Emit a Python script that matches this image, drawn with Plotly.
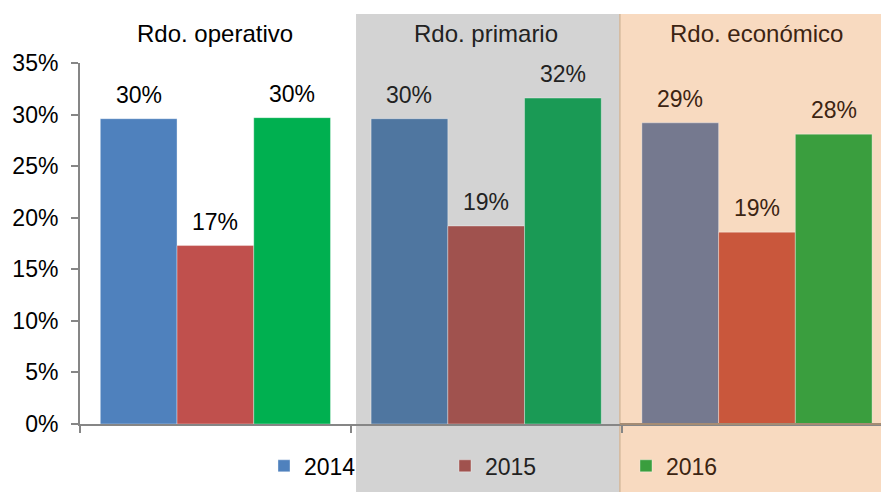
import plotly.graph_objects as go

# ---- data ----
categories = ["Rdo. operativo", "Rdo. primario", "Rdo. económico"]
years = ["2014", "2015", "2016"]
values_2014 = [0.296, 0.296, 0.292]
values_2015 = [0.173, 0.192, 0.186]
values_2016 = [0.297, 0.316, 0.281]
series = [values_2014, values_2015, values_2016]
tick_vals = [0, 0.05, 0.10, 0.15, 0.20, 0.25, 0.30, 0.35]

# ---- styles ----
# colours per region (white / grey / peach) for each year
bar_colors = [
    ["#4F81BD", "#C0504D", "#00B050"],   # white region
    ["#4F76A0", "#A0524E", "#1A9A55"],   # grey region
    ["#75798F", "#C9573C", "#3A9E3E"],   # peach region
]
text_colors = ["#000000", "#222222", "#3C2412"]
FONT = "Liberation Sans, Arial, sans-serif"
FS = 23
BARGAP = 0.15

fig = go.Figure()
for j, yr in enumerate(years):
    for i, cat in enumerate(categories):
        name = f"<span style='color:{text_colors[j]}'>{yr}</span>"
        fig.add_trace(go.Bar(
            x=[cat], y=[series[j][i]],
            name=name, legendgroup=yr, offsetgroup=yr,
            showlegend=(i == j),
            marker=dict(color=bar_colors[i][j],
                        line=dict(width=1, color="rgba(255,255,255,0.35)")),
            hoverinfo="skip",
        ))

# data labels
slot = (1 - BARGAP) / len(years)
annotations = []
for j, yr in enumerate(years):
    for i, cat in enumerate(categories):
        v = series[j][i]
        annotations.append(dict(
            x=i + (j - 1) * slot, y=v, xref="x", yref="y",
            text=f"{round(v * 100)}%", showarrow=False,
            yanchor="middle", yshift=24,
            font=dict(family=FONT, size=FS, color=text_colors[i]),
        ))
# category labels on top
for i, cat in enumerate(categories):
    annotations.append(dict(
        x=i, y=1.083, xref="x", yref="paper", text=cat, showarrow=False,
        yanchor="middle",
        font=dict(family=FONT, size=24, color=text_colors[i]),
    ))

shapes = [
    dict(type="rect", xref="paper", yref="paper", x0=0.3446, x1=0.674,
         y0=-0.19, y1=1.1357, fillcolor="#D3D3D3", line=dict(width=0), layer="below"),
    dict(type="rect", xref="paper", yref="paper", x0=0.674, x1=1.01,
         y0=-0.19, y1=1.1357, fillcolor="#F8DAC0", line=dict(width=0), layer="below"),
    dict(type="line", xref="paper", yref="paper", x0=0.674, x1=0.674,
         y0=-0.19, y1=1.1357, line=dict(width=1.5, color="#D4B89C"), layer="below"),
    dict(type="line", xref="paper", yref="paper", x0=0.674, x1=1.0,
         y0=0, y1=0, line=dict(width=2, color="#A58C74"), layer="above"),
]

fig.update_layout(
    width=881, height=492,
    margin=dict(l=80, r=0, t=63, b=68),
    paper_bgcolor="white", plot_bgcolor="rgba(0,0,0,0)",
    barmode="group", bargap=BARGAP, bargroupgap=0,
    font=dict(family=FONT, size=FS, color="#000000"),
    showlegend=True,
    legend=dict(orientation="h", x=0.2297, y=-0.116, xanchor="left", yanchor="middle",
                entrywidth=136, entrywidthmode="pixels", itemwidth=30,
                font=dict(family=FONT, size=FS), bgcolor="rgba(0,0,0,0)",
                traceorder="normal"),
    annotations=annotations,
    shapes=shapes,
    xaxis=dict(type="category", categoryorder="array", categoryarray=categories,
               range=[-0.5, 2.458], showticklabels=False, showgrid=False,
               showline=True, linecolor="#868686", linewidth=2,
               ticks="outside", tickson="boundaries", ticklen=7, tickwidth=2,
               tickcolor="#868686", zeroline=False),
    yaxis=dict(range=[0, 0.35], tickvals=tick_vals, tickformat=".0%",
               showgrid=False, zeroline=False, showline=True, linecolor="#868686",
               linewidth=2, ticks="outside", ticklen=7, tickwidth=2,
               tickcolor="#868686", ticklabelstandoff=8,
               tickfont=dict(family=FONT, size=FS, color="#000000")),
)

fig.write_html("out.html")
